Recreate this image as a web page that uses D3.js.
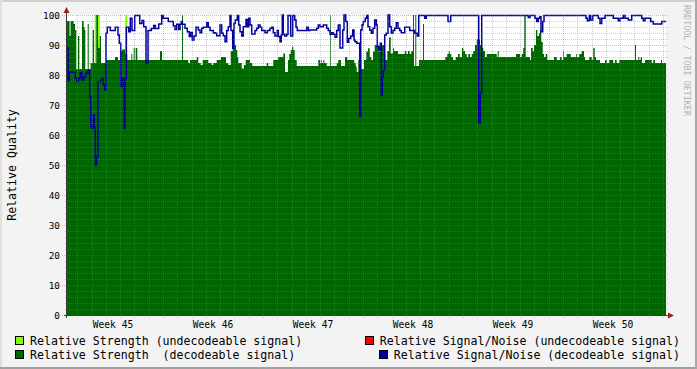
<!DOCTYPE html>
<html><head><meta charset="utf-8">
<script src="https://cdn.jsdelivr.net/npm/d3@7"></script>
<style>
body{margin:0;background:#f3f3f3}
svg{display:block}
text{font-family:"DejaVu Sans Mono",monospace}
</style>
</head><body>
<svg id="chart" width="697" height="369"></svg>
<script>
// ---- data (time in days since Monday of week 45) ----
const weekLabels = ["Week 45","Week 46","Week 47","Week 48","Week 49","Week 50"];
const yTicks = [0,10,20,30,40,50,60,70,80,90,100];
const startDay = 0.28, endDay = 42.21;

const strengthDecodeable = [[0.28,98],[0.46,93],[0.53,98],[0.74,97],[0.84,95],[0.93,82],[1.05,93],[1.14,82],[1.33,98],[1.44,96],[1.51,95],[1.56,82],[1.73,97],[1.80,82],[1.93,84],[2.08,95],[2.17,84],[2.33,100],[2.45,89],[2.57,93],[2.66,84],[3.01,85],[3.64,86],[3.85,85],[3.99,88],[4.13,88.5],[4.34,87],[4.50,85],[4.78,87],[4.85,85],[4.95,89],[5.02,85],[5.09,89],[5.20,85],[6.79,88],[6.93,85],[8.33,100],[8.40,85],[8.77,84],[8.89,85],[9.36,86],[9.47,84],[9.64,83.3],[9.78,85],[10.17,84],[10.41,83.3],[10.52,84],[10.76,85],[11.06,86],[11.41,84],[11.57,83.3],[11.74,88],[11.88,89],[11.97,90],[12.11,88.3],[12.20,86],[12.27,84],[12.51,82.2],[12.67,83.3],[12.79,85],[13.09,84],[13.25,83],[14.26,84],[14.37,83],[14.72,85],[15.07,86],[15.42,87.2],[15.54,81],[15.75,85],[15.84,87],[15.94,88.3],[16.03,89.4],[16.12,88.3],[16.22,85],[16.36,83],[17.87,85],[17.99,84],[18.08,85],[18.13,84],[18.22,85],[18.29,84],[18.46,83],[18.71,100],[18.76,83],[19.16,84],[19.27,85],[19.46,83],[19.74,86],[19.90,85],[20.39,84],[20.49,82.8],[20.56,81],[20.67,85],[20.88,82],[21.07,85],[21.23,87.8],[21.35,88.9],[21.47,86],[21.58,85],[21.70,87.8],[21.82,90],[22.10,87.8],[22.21,90.6],[22.33,90],[22.47,87],[22.56,85],[22.70,88],[22.82,92.6],[22.94,87.2],[23.10,88.9],[23.17,88],[23.45,87],[23.92,88],[24.03,87],[24.15,88],[24.27,87],[24.38,88],[24.50,100],[24.57,83],[24.66,100],[24.73,83],[24.92,85],[25.20,97],[25.27,85],[26.76,86],[26.90,87],[27.00,88],[27.07,87],[27.18,86],[27.30,85],[27.49,86],[27.65,87],[27.77,86],[27.93,89],[28.02,88],[28.14,87],[28.26,86],[28.37,87],[28.49,86],[28.61,87],[28.72,88],[28.84,90],[28.96,92],[29.19,90],[29.31,89],[29.42,88],[29.54,86],[29.66,87],[30.36,86],[30.43,88],[30.50,86],[31.71,87],[31.99,86],[32.11,87],[32.22,89],[32.29,100],[32.39,86],[32.69,85],[32.76,89],[32.88,88],[32.97,90],[33.11,95],[33.20,93],[33.32,94],[33.39,95],[33.48,91],[33.58,87],[33.67,86],[33.79,87],[33.90,85],[34.37,86],[34.56,85],[34.79,86],[34.91,85],[35.02,88],[35.07,86],[35.26,87],[35.54,86],[35.91,87],[35.96,86],[36.14,87],[36.31,88],[36.47,86],[36.54,85],[36.84,86],[37.01,85],[37.12,89],[37.22,86],[37.31,85],[37.59,84],[37.94,85],[38.06,84],[38.24,85],[38.52,84],[38.64,85],[38.76,84],[38.94,85],[40.04,90],[40.11,85],[40.27,86],[40.34,85],[40.44,86],[40.53,84],[40.74,85],[41.21,84],[41.32,85],[41.44,84],[41.86,85],[41.93,84]];

const strengthUndecodeable = [[0.28,0],[2.22,100],[2.33,0],[2.45,100],[2.57,0],[4.36,100],[4.50,0]];

const snrDecodeable = [[0.28,89],[0.35,78],[0.44,80.9],[0.86,78.9],[0.96,77.8],[1.10,79],[1.21,80.8],[1.33,78.3],[1.47,79.4],[1.61,80.6],[1.75,81.7],[1.87,72.8],[1.94,62.8],[2.03,62.2],[2.12,66.7],[2.19,62.5],[2.26,50],[2.36,52.8],[2.45,77.8],[2.68,78.9],[2.82,76.7],[2.92,75],[3.01,93.9],[3.10,95.9],[3.31,94.8],[3.66,95.9],[3.85,93.3],[3.94,90.6],[4.04,76.1],[4.13,78.9],[4.27,62.2],[4.36,78.9],[4.43,95.9],[4.60,94.4],[4.71,98.9],[4.83,94.8],[5.02,99.8],[5.37,97.2],[5.53,98.2],[5.65,96.1],[5.81,83.9],[5.95,94.8],[6.18,95.5],[6.35,96.5],[6.46,95.5],[6.70,97],[6.91,99.8],[7.02,98.9],[7.37,97.8],[7.72,96.4],[7.84,95.2],[7.96,96.9],[8.10,95.2],[8.19,96.9],[8.28,97.8],[8.35,96.9],[8.54,95.6],[8.70,94.4],[8.84,92.8],[8.94,94.2],[9.05,91.7],[9.17,93],[9.31,95.9],[9.47,95],[9.59,94.1],[9.71,95.6],[9.82,95.9],[10.06,97.4],[10.17,95.9],[10.29,94.8],[10.52,94.1],[10.64,93.9],[10.76,93.1],[10.99,96.7],[11.11,93.9],[11.22,93.1],[11.34,91.1],[11.46,94.8],[11.57,96.1],[11.69,99.8],[11.76,94.8],[11.88,88.9],[11.97,97.2],[12.06,98.3],[12.20,99.8],[12.30,96.7],[12.39,94.4],[12.51,93],[12.62,96.1],[12.81,98.5],[12.90,96.1],[13.00,98.9],[13.09,96.7],[13.21,93.7],[13.44,94.8],[13.56,95.6],[13.67,96.7],[13.79,95.9],[13.91,94.8],[14.14,94.1],[14.30,94.8],[14.49,95.6],[14.61,95.9],[14.72,94.1],[14.84,93],[15.00,94.8],[15.07,92.8],[15.19,91.1],[15.28,93.3],[15.35,100],[15.42,93.6],[15.52,93],[15.66,93.6],[15.75,99.8],[15.94,93],[16.08,99.8],[16.22,98.3],[16.31,95.9],[16.40,94.8],[17.06,95.9],[17.17,94.8],[17.29,95],[17.76,95.6],[17.87,96.7],[17.99,96.1],[18.22,96.7],[18.46,95.6],[18.57,94.8],[18.69,93.6],[18.81,94.1],[18.92,93.6],[19.04,92.6],[19.16,94.8],[19.27,96.7],[19.39,89],[19.58,95],[19.67,100],[19.79,97.8],[19.90,90.9],[20.00,92.2],[20.14,93],[20.28,95],[20.37,91.7],[20.44,91.1],[20.56,90.6],[20.77,66.1],[20.84,95],[20.93,96.7],[21.02,97.8],[21.16,98.9],[21.26,99.8],[21.35,96.1],[21.47,95],[21.58,93.9],[21.70,95.6],[21.82,98.3],[21.93,96.7],[22.00,89.4],[22.10,88.3],[22.21,90.6],[22.28,73.3],[22.35,79.4],[22.42,81.7],[22.52,93.3],[22.63,93.9],[22.75,100],[22.87,96.1],[22.98,93.9],[23.10,94.8],[23.22,95.6],[23.33,97.4],[23.45,95.6],[23.57,94.8],[23.68,94.1],[23.92,95.9],[24.27,94.8],[24.62,93.9],[24.80,93],[24.90,99.8],[25.32,98.9],[25.43,99.8],[26.95,97.8],[27.14,99.8],[29.10,64],[29.21,74],[29.31,99.8],[32.57,99.2],[32.69,99.8],[33.04,98.9],[33.16,97.8],[33.27,98.9],[33.39,99.4],[33.46,94.4],[33.58,97.8],[33.67,99.8],[36.61,98.9],[36.70,98.1],[36.84,99.8],[36.94,98.3],[37.08,99.8],[37.47,98.9],[37.59,97.2],[37.71,98.9],[37.94,99.8],[38.52,98.9],[38.87,98.1],[38.99,98.9],[39.22,99.8],[39.34,98.9],[39.57,98.3],[39.81,99.8],[40.51,98.9],[40.62,98.1],[40.74,98.9],[41.14,97.8],[41.32,97],[41.91,97.8]];

const snrUndecodeable = []; // no visible values in this period

const legendLabels = ["Relative Strength (undecodeable signal)","Relative Strength  (decodeable signal)","Relative Signal/Noise (undecodeable signal)","Relative Signal/Noise (decodeable signal)"];
const legendColors = ["#7fff00","#006600","#ff0000","#000099"];

// ---- drawing ----
const svg = d3.select("#chart");
const W = 697, H = 369;
const x = d3.scaleLinear().domain([0, 42]).range([63, 663]);
const y = d3.scaleLinear().domain([0, 100]).range([315, 15]);
const x0 = x(startDay), x1 = x(endDay);

// frame
svg.append("rect").attr("width", W).attr("height", H).attr("fill", "#f3f3f3");
svg.append("rect").attr("x",0).attr("y",0).attr("width",W).attr("height",2).attr("fill","#cfcfcf");
svg.append("rect").attr("x",0).attr("y",0).attr("width",2).attr("height",H).attr("fill","#e0e0e0");
svg.append("rect").attr("x",0).attr("y",H-2).attr("width",W).attr("height",2).attr("fill","#a0a0a0");
svg.append("rect").attr("x",W-2).attr("y",0).attr("width",2).attr("height",H).attr("fill","#a8a8a8");

// canvas
svg.append("rect").attr("x", x0).attr("y", y(100)).attr("width", x1 - x0).attr("height", y(0) - y(100)).attr("fill", "#ffffff");

svg.append("clipPath").attr("id","plotclip").append("rect")
  .attr("x", x0).attr("y", y(100) - 2).attr("width", x1 - x0).attr("height", y(0) - y(100) + 2);

function withEnd(data){ const d = data.slice(); d.push([endDay, data[data.length-1][1]]); return d; }

const area = d3.area().curve(d3.curveStepAfter).x(d => x(d[0])).y0(y(0)).y1(d => y(d[1]));
const line = d3.line().curve(d3.curveStepAfter).x(d => x(d[0])).y(d => y(d[1]));

const plot = svg.append("g").attr("clip-path","url(#plotclip)");
plot.append("path").datum(withEnd(strengthUndecodeable)).attr("d", area).attr("fill", legendColors[0]);
plot.append("path").datum(withEnd(strengthDecodeable)).attr("d", area).attr("fill", legendColors[1]);

// grid
const grid = svg.append("g");
const minorC = "rgba(130,130,130,0.38)", majorC = "rgba(225,60,60,0.4)";
d3.range(0, 101, 2).forEach(v => {
  const major = v % 10 === 0;
  grid.append("line").attr("x1", x0 - (major ? 5 : 2)).attr("x2", x1 + 2)
    .attr("y1", Math.round(y(v)) + 0.5).attr("y2", Math.round(y(v)) + 0.5)
    .attr("stroke", major ? majorC : minorC).attr("stroke-dasharray", "1,1");
});
d3.range(1, 43).forEach(dd => {
  const xp = x(dd);
  if (xp < x0 || xp > x1) return;
  const major = dd % 7 === 0;
  grid.append("line").attr("x1", Math.round(xp) + 0.5).attr("x2", Math.round(xp) + 0.5)
    .attr("y1", y(100)).attr("y2", y(0) + 3)
    .attr("stroke", major ? majorC : minorC).attr("stroke-dasharray", "1,1");
});

// lines
plot.append("path").datum(withEnd(snrDecodeable)).attr("d", line)
  .attr("fill", "none").attr("stroke", legendColors[3]).attr("stroke-width", 1.5);

// axes
const axisC = "#3a3a3a", arrowC = "#9b2020";
svg.append("line").attr("x1", x0 - 3).attr("x2", 669).attr("y1", 315.5).attr("y2", 315.5).attr("stroke", axisC);
svg.append("line").attr("x1", x0 - 0.5).attr("x2", x0 - 0.5).attr("y1", 318).attr("y2", 12).attr("stroke", axisC);
svg.append("path").attr("d", `M668,312.5 L674,315.5 L668,318.5 Z`).attr("fill", arrowC);
svg.append("path").attr("d", `M${x0-3.5},13 L${x0-0.5},7 L${x0+2.5},13 Z`).attr("fill", arrowC);

// y labels
svg.append("g").selectAll("text").data(yTicks).join("text")
  .attr("x", 60).attr("y", d => y(d) + 3.5).attr("text-anchor", "end")
  .attr("font-size", "9.4px").attr("fill", "#000").text(d => d);

// x labels
svg.append("g").selectAll("text").data(weekLabels).join("text")
  .attr("x", (d, i) => x(i * 7 + 3.5)).attr("y", 327.5).attr("text-anchor", "middle")
  .attr("font-size", "9.6px").attr("fill", "#000").text(d => d);

// y title
svg.append("text").attr("transform", "translate(15.5,165) rotate(-90)")
  .attr("text-anchor", "middle").attr("font-size", "11.6px").attr("fill", "#000").text("Relative Quality");

// watermark
svg.append("text").attr("transform", "translate(684,5) rotate(90)")
  .attr("font-size", "8.4px").attr("fill", "#b4b4b4").text("RRDTOOL / TOBI OETIKER");

// legend
const lg = svg.append("g").attr("font-size", "11.6px");
[[0,345],[1,359]].forEach(([i, by]) => {
  lg.append("rect").attr("x", 15.5).attr("y", by - 8.5).attr("width", 8).attr("height", 8)
    .attr("fill", legendColors[i]).attr("stroke", "#000");
  lg.append("text").attr("x", 30).attr("y", by).style("white-space","pre").text(legendLabels[i]);
});
[[2,345],[3,359]].forEach(([i, by]) => {
  const t = lg.append("text").attr("x", 680).attr("y", by).attr("text-anchor", "end")
    .style("white-space","pre").text(legendLabels[i]);
  const w = t.node().getComputedTextLength();
  lg.append("rect").attr("x", Math.round(680 - w - 15) + 0.5).attr("y", by - 8.5).attr("width", 8).attr("height", 8)
    .attr("fill", legendColors[i]).attr("stroke", "#000");
});
</script>
</body></html>
